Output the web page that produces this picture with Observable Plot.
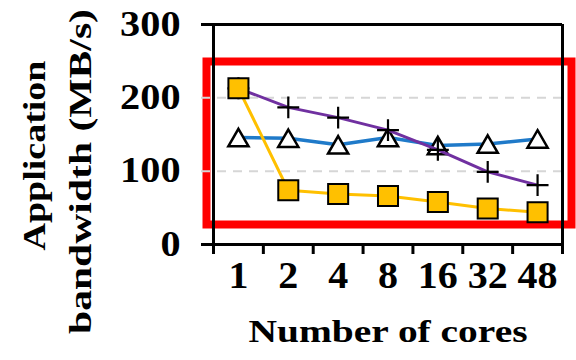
<!DOCTYPE html>
<html>
<head>
<meta charset="utf-8">
<script src="https://cdn.jsdelivr.net/npm/d3@7"></script>
<script src="https://cdn.jsdelivr.net/npm/@observablehq/plot@0.6"></script>
<style>
  html, body { margin: 0; padding: 0; background: #fff; }
</style>
</head>
<body>
<div id="chart"></div>
<script>
// Core counts on the x axis (categorical, evenly spaced)
const cores = ["1", "2", "4", "8", "16", "32", "48"];
// Application bandwidth (MB/s) for each configuration
const triangleSeries = [146, 145, 136, 146, 135, 137, 144];
const plusSeries = [213, 187, 173, 156, 129, 99, 81];
const squareSeries = [213, 74, 69, 66, 58, 49, 44];
const yTicks = [0, 100, 200, 300];
const gridValues = [100, 200];
const xTitle = "Number of cores";
const yTitle1 = "Application";
const yTitle2 = "bandwidth (MB/s)";

const W = 576, H = 360;
const mL = 213, mR = 14, mT = 24, mB = 116;
const frameH = H - mT - mB;
const font = "Liberation Serif, Times New Roman, serif";

const rows = (vals) => cores.map((c, i) => ({ x: i + 0.5, y: vals[i] }));
const boundaries = d3.range(cores.length + 1);

const svg = Plot.plot({
  width: W,
  height: H,
  marginLeft: mL,
  marginRight: mR,
  marginTop: mT,
  marginBottom: mB,
  style: { fontFamily: font, fontWeight: "bold", background: "white", overflow: "visible" },
  x: { domain: [0, cores.length], axis: null },
  y: { domain: [0, 300], axis: null },
  marks: [
    // highlight box
    Plot.frame({ stroke: "#ff0000", strokeWidth: 8, insetLeft: -7, insetRight: -9, insetTop: 37, insetBottom: 20 }),
    // dashed grid
    Plot.ruleY(gridValues, { stroke: "#d6d6d6", strokeWidth: 2, strokeDasharray: "9,7", insetLeft: -12 }),
    // bottom and top lines (with outward ticks at 0 and 300)
    Plot.ruleY([0, 300], { stroke: "black", strokeWidth: 3, insetLeft: -12 }),
    // left and right borders, extended by the first/last x tick
    Plot.ruleX([0, cores.length], { stroke: "black", strokeWidth: 3, insetBottom: -10 }),
    // inner x ticks between categories
    Plot.ruleX(boundaries.slice(1, -1), { stroke: "black", strokeWidth: 3, insetTop: frameH, insetBottom: -10 }),
    // y tick labels
    Plot.text(yTicks, { y: d => d, text: d => String(d), frameAnchor: "left", textAnchor: "end", dx: -33, fontSize: 35, fontWeight: "bold", fill: "black" }),
    // x tick labels
    Plot.text(cores, { x: (d, i) => i + 0.5, text: d => d, frameAnchor: "bottom", dy: 43.5, fontSize: 37, fontWeight: "bold", fill: "black" }),
    // axis titles
    Plot.text([xTitle], { frameAnchor: "bottom", textAnchor: "middle", dy: 97, fontSize: 31, fontWeight: "bold", fill: "black" }),
    Plot.text([yTitle1], { frameAnchor: "left", textAnchor: "middle", rotate: -90, dx: -178, dy: 21, fontSize: 31, fontWeight: "bold", fill: "black" }),
    Plot.text([yTitle2], { frameAnchor: "left", textAnchor: "middle", rotate: -90, dx: -132, dy: 37, fontSize: 31, fontWeight: "bold", fill: "black" }),
    // triangle series
    Plot.line(rows(triangleSeries), { x: "x", y: "y", stroke: "#1f7ac9", strokeWidth: 3.5 }),
    Plot.dot(rows(triangleSeries), { x: "x", y: "y", symbol: "triangle", r: 7.5, dy: 3, fill: "white", stroke: "black", strokeWidth: 2.5 }),
    // plus series
    Plot.line(rows(plusSeries), { x: "x", y: "y", stroke: "#7030a0", strokeWidth: 3 }),
    Plot.dot(rows(plusSeries), { x: "x", y: "y", symbol: "plus", r: 7.1, stroke: "black", strokeWidth: 2.2 }),
    // square series
    Plot.line(rows(squareSeries), { x: "x", y: "y", stroke: "#ffc000", strokeWidth: 3 }),
    Plot.dot(rows(squareSeries), { x: "x", y: "y", symbol: "square", r: 11.3, fill: "#ffc000", stroke: "black", strokeWidth: 2 })
  ]
});

document.getElementById("chart").appendChild(svg);

// The serif labels are set wide: stretch glyphs along the baseline.
const titleLengths = { [xTitle]: 279, [yTitle1]: 190, [yTitle2]: 325 };
const yTickLabels = yTicks.map(String);
svg.querySelectorAll("text").forEach(t => {
  const s = t.textContent;
  let target;
  if (s in titleLengths) target = titleLengths[s];
  else if (yTickLabels.includes(s)) target = t.getComputedTextLength() * 1.15;
  else target = t.getComputedTextLength() * 1.08;
  t.setAttribute("textLength", target.toFixed(1));
  t.setAttribute("lengthAdjust", "spacingAndGlyphs");
});
</script>
</body>
</html>
